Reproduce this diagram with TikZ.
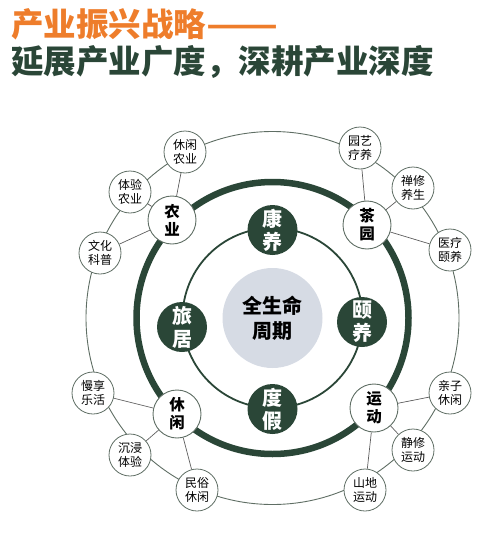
\documentclass[tikz,border=0pt]{standalone}
\usepackage{fontspec}
\setmainfont{Noto Sans CJK SC}
\definecolor{dg}{HTML}{2A4637}
\definecolor{og}{HTML}{EE7D2B}
\definecolor{cg}{HTML}{D6DBE4}
\definecolor{ln}{HTML}{5E5E5E}
\definecolor{rim}{HTML}{5F6E64}
\tikzset{
 small/.style={circle, draw=rim, line width=0.8pt, fill=white, minimum size=42pt, inner sep=0pt, font=\fontsize{12}{13.5}\selectfont, align=center, text=black},
 mainnode/.style={circle, draw=rim, line width=0.9pt, fill=white, minimum size=48pt, inner sep=0pt, font=\fontsize{15.5}{18}\selectfont\bfseries, align=center, text=black},
 dark/.style={circle, fill=dg, minimum size=50pt, inner sep=0pt, text=white, font=\fontsize{20}{23}\selectfont\bfseries, align=center},
 link/.style={draw=ln, line width=0.7pt},
 title/.style={anchor=west, inner sep=0pt, font=\fontsize{32.5}{36}\selectfont\bfseries},
}
\begin{document}
\begin{tikzpicture}[x=1pt,y=-1pt]
\useasboundingbox (0,0) rectangle (501,541);
\node[title, text=og] (t1) at (11,24) {产业振兴战略\resizebox{72pt}{\height}{——}};
\node[title, text=dg] (t2) at (11,62) {延展产业广度，深耕产业深度};
\coordinate (c) at (272.5,318);
% rings
\draw[rim, line width=0.9pt] (c) circle[radius=186.5pt];
\draw[dg, line width=6.5pt] (c) circle[radius=136pt];
\draw[dg, line width=1.8pt] (c) circle[radius=90pt];
% centre
\node[circle, fill=cg, minimum size=100pt, inner sep=0pt, align=center, font=\fontsize{20}{25}\selectfont\bfseries] (ctr) at (c) {全生命\\周期};
% inner ring nodes
\node[dark] (ky) at (272.5,230) {康\\养};
\node[dark] (yy) at (362,322) {颐\\养};
\node[dark] (dj) at (272.5,409) {度\\假};
\node[dark] (lj) at (182,327) {旅\\居};
% main nodes
\node[mainnode] (ny) at (172,220) {农\\业};
\node[mainnode] (cy) at (367,225) {茶\\园};
\node[mainnode] (xx) at (177,414) {休\\闲};
\node[mainnode] (yd) at (374,408) {运\\动};
% small nodes
\node[small] (a1) at (185,152) {休闲\\农业};
\node[small] (a2) at (130,192) {体验\\农业};
\node[small] (a3) at (100,253) {文化\\科普};
\node[small] (b1) at (360,148) {园艺\\疗养};
\node[small] (b2) at (413,188) {禅修\\养生};
\node[small] (b3) at (450,250) {医疗\\颐养};
\node[small] (c1) at (93,393) {慢享\\乐活};
\node[small] (c2) at (130,455) {沉浸\\体验};
\node[small] (c3) at (197,490) {民俗\\休闲};
\node[small] (d1) at (450,393) {亲子\\休闲};
\node[small] (d2) at (413,450) {静修\\运动};
\node[small] (d3) at (365,490) {山地\\运动};
% links
\foreach \m/\s in {ny/a1,ny/a2,ny/a3,cy/b1,cy/b2,cy/b3,xx/c1,xx/c2,xx/c3,yd/d1,yd/d2,yd/d3}
  \draw[link] (\m) -- (\s);
\end{tikzpicture}
\end{document}
